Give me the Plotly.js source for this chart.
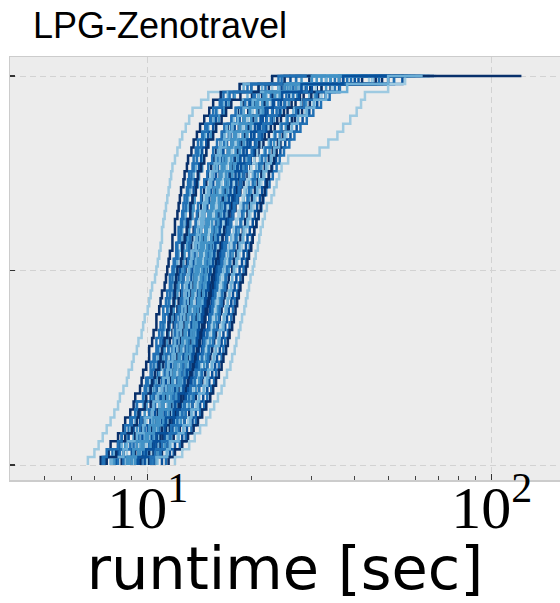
<!DOCTYPE html>
<html><head><meta charset="utf-8">
<script src="https://cdn.plot.ly/plotly-3.0.1.min.js"></script>
<style>html,body{margin:0;padding:0;background:#fff}#chart{width:560px;height:603px}</style>
</head><body><div id="chart"></div>
<script>
// Runtimes (seconds) of 50 runs per configuration
const run01 = [6.7,7.0,7.2,7.4,7.6,7.8,8.0,8.2,8.3,8.5,8.7,8.8,9.0,9.1,9.3,9.4,9.6,9.7,9.8,10.0,10.1,10.2,10.3,10.5,10.6,10.7,10.8,10.9,11.0,11.0,11.1,11.2,11.3,11.4,11.5,11.6,11.7,11.8,12.0,12.2,12.4,12.6,12.9,13.2,13.5,14.3,15.0,18.5,23.0,25.0];
const run02 = [7.3,7.7,7.8,8.2,8.5,8.6,8.9,9.1,9.2,9.5,9.6,9.7,9.9,10.1,10.1,10.3,10.4,10.6,10.6,10.8,10.9,11.0,11.2,11.3,11.4,11.5,11.6,11.8,11.8,12.0,12.0,12.2,12.3,12.4,12.5,12.7,12.8,13.0,13.1,13.4,13.6,13.9,14.2,14.6,15.1,15.5,16.3,18.5,23.0,26.0];
const run03 = [7.5,7.9,8.3,8.4,8.8,8.9,9.2,9.3,9.7,9.8,9.9,10.2,10.2,10.4,10.6,10.6,10.8,10.9,11.1,11.1,11.3,11.4,11.6,11.6,11.8,11.9,12.1,12.1,12.3,12.3,12.5,12.6,12.7,12.8,13.0,13.1,13.2,13.5,13.6,13.8,14.0,14.4,14.7,15.2,15.5,16.2,16.6,19.5,24.0,28.0];
const run04 = [7.9,8.0,8.4,8.7,8.9,9.2,9.4,9.7,9.8,10.1,10.2,10.3,10.5,10.7,10.8,10.9,11.1,11.2,11.2,11.5,11.6,11.7,11.8,12.0,12.1,12.2,12.3,12.5,12.6,12.6,12.8,12.9,13.1,13.1,13.3,13.4,13.6,13.8,13.9,14.2,14.4,14.7,15.0,15.6,15.9,16.6,17.1,19.0,25.0,29.0];
const run05 = [8.1,8.2,8.7,8.8,9.1,9.5,9.5,9.9,10.2,10.2,10.4,10.7,10.7,10.9,11.1,11.1,11.4,11.5,11.5,11.8,11.9,11.9,12.2,12.3,12.4,12.5,12.7,12.7,12.9,13.0,13.0,13.3,13.4,13.5,13.6,13.7,14.0,14.1,14.3,14.4,14.8,15.0,15.5,15.8,16.5,16.9,17.8,20.0,26.0,31.0];
const run06 = [8.0,8.5,8.6,9.1,9.3,9.6,9.8,9.9,10.3,10.4,10.6,10.8,10.9,11.1,11.2,11.4,11.5,11.6,11.8,11.9,12.0,12.2,12.3,12.5,12.6,12.7,12.8,13.0,13.1,13.2,13.3,13.5,13.6,13.7,13.8,14.0,14.1,14.4,14.5,14.8,15.0,15.3,15.8,16.1,16.7,17.2,17.9,21.0,28.0,33.0];
const run07 = [8.4,8.5,9.0,9.2,9.6,9.7,10.1,10.2,10.5,10.7,10.8,11.1,11.1,11.4,11.5,11.6,11.8,11.9,12.0,12.2,12.3,12.5,12.6,12.7,12.9,13.0,13.2,13.4,13.5,13.6,13.8,14.0,14.3,14.4,14.6,14.8,15.0,15.3,15.6,15.8,16.3,16.5,17.1,17.6,18.4,19.0,20.1,22.5,29.5,35.0];
const run08 = [8.6,8.7,9.0,9.4,9.8,9.9,10.1,10.5,10.6,10.8,11.1,11.1,11.4,11.5,11.6,11.9,11.9,12.1,12.2,12.4,12.6,12.6,12.8,13.0,13.1,13.3,13.3,13.6,13.7,13.9,14.0,14.2,14.5,14.6,14.8,15.1,15.2,15.6,15.8,16.1,16.5,16.8,17.4,17.8,18.6,19.2,20.4,23.0,31.0,38.0];
const run09 = [8.5,9.0,9.1,9.6,9.8,10.2,10.3,10.5,10.9,11.0,11.1,11.4,11.6,11.7,11.8,12.0,12.2,12.3,12.4,12.5,12.7,12.9,13.0,13.1,13.3,13.5,13.6,13.8,13.9,14.1,14.3,14.4,14.7,14.9,15.0,15.3,15.5,15.8,16.0,16.4,16.7,17.2,17.5,18.2,18.7,19.7,20.5,24.0,34.0,41.0];
const run10 = [8.8,9.0,9.3,9.7,10.0,10.2,10.5,10.8,10.9,11.2,11.3,11.6,11.7,11.8,12.0,12.2,12.3,12.5,12.6,12.7,12.9,13.0,13.2,13.4,13.5,13.6,13.8,14.0,14.1,14.3,14.5,14.6,14.9,15.1,15.3,15.5,15.8,16.0,16.3,16.6,17.0,17.4,17.9,18.5,19.0,19.9,21.0,24.5,33.0,44.0];
const run11 = [8.9,9.1,9.5,9.8,10.2,10.3,10.7,10.8,11.2,11.3,11.5,11.7,11.9,12.0,12.2,12.4,12.5,12.6,12.8,12.9,13.1,13.2,13.4,13.6,13.7,13.8,13.9,14.1,14.2,14.3,14.5,14.6,14.7,14.9,15.0,15.2,15.4,15.6,15.8,16.0,16.3,16.7,17.0,17.6,18.1,18.7,19.5,21.5,27.0,36.0];
const run12 = [9.0,9.2,9.7,9.9,10.3,10.6,10.7,11.1,11.3,11.5,11.7,11.9,12.0,12.2,12.4,12.5,12.7,12.8,13.0,13.1,13.3,13.4,13.6,13.7,13.9,14.1,14.2,14.4,14.5,14.7,14.9,15.1,15.3,15.5,15.7,16.0,16.2,16.5,16.8,17.1,17.5,17.9,18.4,19.0,19.6,20.5,21.5,25.0,36.0,47.0];
const run13 = [9.2,9.4,9.7,10.2,10.4,10.7,11.0,11.1,11.5,11.6,11.9,12.0,12.3,12.4,12.5,12.7,12.9,13.0,13.1,13.3,13.5,13.6,13.8,13.9,14.1,14.3,14.4,14.6,14.8,14.9,15.1,15.3,15.6,15.7,16.0,16.2,16.4,16.8,17.0,17.3,17.8,18.1,18.7,19.2,19.9,20.8,21.8,25.5,32.0,43.0];
const run14 = [9.1,9.6,9.9,10.3,10.5,10.9,11.0,11.4,11.6,11.9,12.0,12.2,12.4,12.6,12.7,12.9,13.0,13.2,13.4,13.5,13.6,13.8,14.0,14.1,14.3,14.5,14.6,14.8,15.0,15.1,15.3,15.5,15.8,16.0,16.2,16.4,16.7,17.0,17.2,17.6,18.0,18.4,18.9,19.6,20.2,21.0,22.2,26.0,38.0,49.0];
const run15 = [9.3,9.7,10.1,10.3,10.8,11.0,11.2,11.6,11.8,12.0,12.2,12.4,12.6,12.7,12.9,13.1,13.2,13.4,13.5,13.7,13.9,14.0,14.2,14.3,14.5,14.7,14.9,15.1,15.3,15.6,15.8,16.0,16.3,16.6,16.9,17.2,17.6,18.1,18.5,19.0,19.7,20.4,21.2,22.1,23.1,24.4,25.8,28.0,41.0,53.0];
const run16 = [9.6,9.8,10.1,10.6,10.8,11.2,11.3,11.7,11.9,12.2,12.3,12.6,12.7,12.9,13.1,13.2,13.4,13.6,13.7,13.9,14.0,14.2,14.4,14.5,14.7,14.9,15.0,15.2,15.4,15.6,15.8,16.0,16.2,16.4,16.7,16.9,17.2,17.4,17.8,18.1,18.5,18.9,19.5,20.1,20.8,21.6,22.8,26.5,35.0,46.0];
const run17 = [9.5,10.0,10.3,10.7,11.0,11.3,11.6,11.8,12.1,12.3,12.5,12.8,12.9,13.1,13.3,13.4,13.6,13.7,13.9,14.1,14.2,14.4,14.6,14.7,14.9,15.1,15.2,15.4,15.6,15.8,16.0,16.2,16.4,16.6,16.9,17.1,17.4,17.7,18.0,18.3,18.8,19.2,19.7,20.3,21.1,21.9,23.1,27.0,37.0,50.0];
const run18 = [9.8,10.0,10.5,10.8,11.2,11.4,11.8,11.9,12.3,12.5,12.7,12.9,13.1,13.3,13.4,13.6,13.8,13.9,14.1,14.3,14.4,14.6,14.8,14.9,15.1,15.3,15.4,15.6,15.8,16.0,16.2,16.4,16.6,16.9,17.1,17.3,17.6,17.9,18.2,18.6,19.0,19.4,20.0,20.6,21.3,22.2,23.4,27.5,33.0,45.0];
const run19 = [9.9,10.3,10.5,11.0,11.3,11.6,11.9,12.1,12.4,12.7,12.8,13.1,13.3,13.4,13.6,13.8,13.9,14.1,14.3,14.4,14.6,14.8,14.9,15.1,15.3,15.5,15.7,15.9,16.2,16.4,16.6,16.9,17.2,17.5,17.8,18.2,18.6,19.0,19.5,20.1,20.7,21.5,22.4,23.3,24.4,25.7,27.2,30.0,45.0,58.0];
const run20 = [10.1,10.3,10.8,11.0,11.5,11.7,12.0,12.4,12.6,12.8,13.0,13.3,13.4,13.6,13.8,14.0,14.1,14.3,14.5,14.6,14.8,15.0,15.1,15.3,15.5,15.7,15.9,16.0,16.2,16.4,16.6,16.8,17.1,17.3,17.6,17.8,18.1,18.4,18.7,19.1,19.5,20.0,20.5,21.2,21.9,22.8,24.0,28.2,40.0,52.0];
const run21 = [10.1,10.6,10.9,11.4,11.7,12.0,12.2,12.6,12.8,13.1,13.3,13.5,13.7,13.9,14.1,14.2,14.4,14.6,14.7,14.9,15.1,15.3,15.4,15.6,15.8,16.0,16.2,16.3,16.5,16.7,16.9,17.2,17.4,17.6,17.9,18.1,18.4,18.7,19.1,19.4,19.9,20.4,20.9,21.6,22.3,23.3,24.5,28.8,36.0,48.0];
const run22 = [9.5,10.1,10.4,10.9,11.3,11.6,12.0,12.3,12.5,12.9,13.1,13.3,13.6,13.8,14.0,14.2,14.3,14.6,14.7,14.9,15.1,15.3,15.5,15.7,16.0,16.2,16.5,16.7,16.9,17.2,17.4,17.7,18.0,18.3,18.6,19.0,19.5,19.9,20.4,21.0,21.7,22.5,23.4,24.4,25.5,26.9,28.4,31.0,48.0,60.0];
const run23 = [10.6,10.8,11.3,11.7,12.0,12.4,12.7,12.9,13.3,13.5,13.7,14.0,14.1,14.3,14.5,14.7,14.9,15.0,15.2,15.4,15.6,15.7,15.9,16.1,16.3,16.5,16.7,16.9,17.0,17.3,17.5,17.7,17.9,18.2,18.5,18.7,19.0,19.3,19.7,20.1,20.5,21.0,21.6,22.2,23.0,24.0,25.3,29.7,39.0,51.0];
const run24 = [9.9,10.4,10.8,11.3,11.7,12.1,12.4,12.7,13.1,13.3,13.6,13.8,14.1,14.3,14.5,14.7,14.9,15.1,15.3,15.5,15.7,15.8,16.0,16.2,16.6,16.8,17.1,17.3,17.5,17.8,18.1,18.4,18.7,19.0,19.3,19.7,20.2,20.7,21.2,21.8,22.5,23.3,24.3,25.3,26.5,27.9,29.5,32.0,52.0,64.0];
const run25 = [10.0,10.6,11.0,11.5,11.9,12.3,12.6,13.0,13.3,13.5,13.8,14.1,14.3,14.6,14.8,15.0,15.2,15.4,15.5,15.8,15.9,16.1,16.3,16.5,16.9,17.1,17.3,17.5,17.7,17.9,18.1,18.4,18.6,18.9,19.1,19.4,19.7,20.0,20.4,20.8,21.3,21.8,22.4,23.1,23.9,24.9,26.2,30.8,44.0,56.0];
const run26 = [10.3,10.7,11.2,11.7,12.1,12.5,12.9,13.2,13.5,13.8,14.1,14.3,14.6,14.8,15.0,15.2,15.5,15.6,15.8,16.0,16.2,16.4,16.6,16.8,17.2,17.4,17.7,17.9,18.2,18.4,18.7,19.0,19.4,19.7,20.0,20.5,20.9,21.4,22.0,22.6,23.3,24.2,25.2,26.2,27.5,28.9,30.6,33.0,45.0,66.0];
const run27 = [10.5,11.0,11.5,11.9,12.4,12.8,13.2,13.5,13.8,14.1,14.4,14.7,14.9,15.2,15.4,15.6,15.8,16.0,16.2,16.4,16.6,16.8,17.0,17.2,17.6,17.8,18.1,18.3,18.6,18.9,19.2,19.5,19.8,20.1,20.5,20.9,21.4,21.9,22.5,23.1,23.9,24.7,25.7,26.8,28.1,29.6,31.3,34.0,50.0,62.0];
const run28 = [10.7,11.3,11.7,12.2,12.7,13.1,13.5,13.8,14.1,14.5,14.7,15.0,15.3,15.5,15.7,16.0,16.2,16.4,16.6,16.8,17.0,17.2,17.4,17.6,18.0,18.2,18.5,18.8,19.0,19.3,19.6,19.9,20.3,20.6,21.0,21.4,21.9,22.4,23.0,23.6,24.4,25.3,26.3,27.4,28.7,30.2,32.0,34.3,45.0,69.0];
const run29 = [11.0,11.6,12.0,12.6,13.0,13.5,13.8,14.2,14.5,14.9,15.1,15.4,15.7,15.9,16.2,16.4,16.6,16.8,17.0,17.2,17.5,17.7,17.9,18.1,18.5,18.8,19.0,19.3,19.5,19.8,20.2,20.5,20.8,21.2,21.5,22.0,22.5,23.0,23.6,24.3,25.1,26.0,27.1,28.2,29.5,31.1,32.9,36.0,55.0,68.0];
const run30 = [11.3,11.9,12.4,12.9,13.4,13.8,14.2,14.6,14.9,15.3,15.6,15.8,16.1,16.4,16.6,16.8,17.1,17.3,17.5,17.7,17.9,18.2,18.4,18.6,19.0,19.3,19.5,19.8,20.1,20.4,20.7,21.0,21.4,21.7,22.1,22.6,23.1,23.7,24.2,24.9,25.8,26.7,27.8,29.0,30.3,31.9,33.8,36.2,52.0,60.0];
const run31 = [11.5,12.0,12.6,13.1,13.6,14.0,14.4,14.8,15.2,15.5,15.8,16.1,16.4,16.6,16.9,17.1,17.3,17.6,17.8,18.0,18.2,18.4,18.6,18.9,19.3,19.5,19.7,20.0,20.2,20.4,20.7,21.0,21.3,21.6,21.9,22.2,22.5,22.9,23.3,23.7,24.3,24.9,25.6,26.3,27.3,28.4,29.9,32.0,46.0,57.0];
const run32 = [12.0,12.6,13.2,13.7,14.2,14.8,15.2,15.6,16.0,16.4,16.7,17.0,17.4,17.6,17.9,18.1,18.4,18.6,18.8,19.1,19.3,19.5,19.7,19.9,20.2,20.4,20.6,20.9,21.1,21.3,21.6,21.9,22.2,22.9,23.3,23.7,24.1,24.5,25.6,31.6,33.5,35.6,37.0,38.8,40.5,41.7,42.8,50.0,56.0,65.0];
const run33 = [10.1,10.4,10.9,11.1,11.6,11.8,12.2,12.4,12.7,12.9,13.1,13.4,13.5,13.7,13.9,14.1,14.2,14.4,14.6,14.7,14.9,15.1,15.2,15.4,15.6,15.8,16.0,16.3,16.5,16.7,17.0,17.3,17.6,17.8,18.2,18.5,19.0,19.4,19.9,20.5,21.1,21.9,22.8,23.8,24.9,26.2,27.7,29.7,42.0,122.0];
const run34 = [9.0,9.4,9.7,10.0,10.4,10.6,10.9,11.1,11.4,11.6,11.8,12.0,12.1,12.3,12.5,12.6,12.8,12.9,13.1,13.2,13.4,13.5,13.7,13.8,14.0,14.2,14.3,14.5,14.7,14.8,15.0,15.2,15.4,15.6,15.9,16.1,16.3,16.6,16.9,17.2,17.6,18.0,18.5,19.1,19.8,20.6,21.7,24.0,31.0,42.0];
const run35 = [8.2,8.3,8.9,9.4,9.5,9.6,10.1,10.4,10.4,10.6,11.0,11.2,11.3,11.3,11.5,11.9,12.0,12.0,12.1,12.3,12.5,12.6,12.6,12.7,12.8,13.1,13.2,13.2,13.3,13.7,13.8,13.9,14.0,14.3,14.3,14.6,14.9,15.0,15.4,15.5,15.9,16.4,16.7,17.5,18.0,19.2,20.3,22.0,27.0,33.0];
const run36 = [8.8,9.5,9.6,10.0,10.7,10.8,11.0,11.5,11.7,11.8,12.3,12.4,12.5,12.9,13.0,13.0,13.4,13.6,13.6,13.7,14.0,14.1,14.2,14.3,14.4,14.7,14.8,14.9,15.3,15.4,15.4,15.8,16.1,16.1,16.5,16.8,16.9,17.4,17.5,18.0,18.3,18.9,19.3,20.0,20.8,21.5,23.5,26.0,34.0,47.0];
const run37 = [9.8,10.5,10.6,11.2,11.8,11.9,12.2,12.8,12.9,13.3,13.4,13.8,13.9,14.0,14.4,14.5,14.6,15.0,15.1,15.2,15.4,15.5,15.7,15.8,15.9,16.3,16.4,16.5,16.9,17.0,17.1,17.6,17.8,17.9,18.4,18.6,19.1,19.3,19.9,20.3,20.6,21.5,22.1,23.0,24.2,25.0,27.5,30.0,40.0,54.0];
const run38 = [7.8,8.5,8.7,9.3,9.7,9.8,10.3,10.4,10.7,11.0,11.1,11.4,11.5,11.8,11.9,12.0,12.2,12.4,12.5,12.6,12.8,12.9,13.0,13.1,13.2,13.4,13.5,13.8,13.9,14.0,14.3,14.4,14.6,14.8,15.1,15.3,15.4,15.9,16.2,16.3,16.9,17.3,17.6,18.3,19.0,20.2,21.0,24.0,30.0,39.0];
const run39 = [10.4,10.9,11.5,11.6,12.3,12.8,12.9,13.5,13.6,14.1,14.3,14.4,14.9,15.0,15.1,15.5,15.6,15.9,16.1,16.2,16.4,16.5,16.8,16.9,17.0,17.3,17.4,17.8,18.0,18.1,18.6,18.8,19.0,19.5,19.7,20.2,20.5,21.1,21.5,22.0,22.8,23.5,24.5,25.5,27.0,28.5,31.0,35.0,47.0,58.0];
const run40 = [9.2,9.4,10.2,10.4,10.5,11.1,11.5,11.6,12.1,12.2,12.5,12.8,12.9,13.0,13.3,13.5,13.6,13.8,14.0,14.0,14.2,14.5,14.6,14.7,14.8,15.1,15.2,15.3,15.7,15.8,16.0,16.3,16.4,16.8,17.0,17.1,17.6,17.8,18.3,18.5,19.1,19.5,19.9,20.7,21.6,22.3,24.2,27.0,36.0,44.0];
const run41 = [7.6,8.1,8.2,8.6,9.0,9.3,9.4,9.8,9.9,10.2,10.3,10.5,10.8,10.9,11.0,11.2,11.4,11.5,11.6,11.7,11.9,12.0,12.0,12.1,12.2,12.5,12.6,12.6,12.8,13.0,13.1,13.3,13.3,13.5,13.8,13.9,14.0,14.3,14.6,14.8,15.0,15.5,15.8,16.4,16.9,17.5,18.6,21.0,25.0,30.0];
const run42 = [10.2,10.5,11.0,11.6,11.7,12.2,12.6,12.8,13.2,13.3,13.7,13.8,14.1,14.4,14.5,14.6,14.9,15.1,15.2,15.4,15.5,15.7,15.9,16.0,16.1,16.4,16.5,16.7,17.0,17.1,17.4,17.7,17.8,18.2,18.4,18.6,19.0,19.4,19.8,20.1,20.7,21.2,21.8,22.8,23.7,25.1,26.5,29.0,38.0,50.0];
const run43 = [8.7,9.1,9.3,9.9,10.1,10.4,10.8,11.0,11.1,11.5,11.8,11.9,12.0,12.4,12.5,12.6,12.9,13.0,13.1,13.3,13.4,13.5,13.7,13.7,13.8,14.0,14.2,14.3,14.4,14.7,14.8,15.0,15.3,15.4,15.6,15.9,16.2,16.4,16.6,17.1,17.5,17.8,18.5,19.0,19.8,20.9,22.0,25.0,30.0,41.0];
const run44 = [9.4,9.9,10.4,10.6,11.2,11.3,11.9,12.0,12.3,12.7,12.8,13.0,13.3,13.5,13.6,13.9,14.0,14.1,14.4,14.5,14.7,14.8,15.0,15.1,15.2,15.5,15.6,15.7,16.0,16.2,16.3,16.7,16.8,17.2,17.4,17.5,18.0,18.3,18.6,19.0,19.5,20.0,20.5,21.3,22.0,23.1,24.6,28.0,37.0,51.0];
const run45 = [10.6,11.4,11.6,12.3,12.7,13.3,13.4,14.0,14.1,14.6,14.9,15.0,15.4,15.6,15.8,16.1,16.2,16.6,16.7,16.9,17.1,17.3,17.5,17.6,17.8,18.1,18.3,18.5,18.9,19.0,19.5,19.7,20.0,20.4,20.8,21.1,21.7,22.1,22.8,23.3,24.1,25.0,26.2,27.3,29.0,30.5,33.0,38.0,50.0,63.0];
const run46 = [7.4,7.6,8.2,8.4,8.6,9.0,9.2,9.3,9.7,9.9,10.0,10.3,10.4,10.5,10.7,10.9,11.0,11.1,11.2,11.4,11.5,11.6,11.7,11.8,11.9,12.0,12.2,12.2,12.4,12.5,12.6,12.7,12.9,13.0,13.1,13.3,13.4,13.6,13.9,14.0,14.3,14.5,14.9,15.3,15.8,16.4,17.3,20.0,24.5,29.0];

const runs = [run01,run02,run03,run04,run05,run06,run07,run08,run09,run10,run11,run12,run13,run14,run15,run16,run17,run18,run19,run20,run21,run22,run23,run24,run25,run26,run27,run28,run29,run30,run31,run32,run33,run34,run35,run36,run37,run38,run39,run40,run41,run42,run43,run44,run45,run46];

const xTickVals = [10, 100];
const xTickText = ['10<sup>1</sup>', '10<sup>2</sup>'];
const xMinorVals = [4,5,6,7,8,9,20,30,40,50,60,70,80,90];
const yTickVals = [0, 0.5, 1];

const palette = ['#9ecae1','#6baed6','#4292c6','#2171b5','#08519c','#08306b'];
const colorIdx = [0,5,3,1,4,2,5,0,3,4,1,5,2,0,4,3,5,1,2,0,4,5,3,1,0,2,5,0,4,3,5,0,5,2,3,2,4,1,3,2,5,3,2,4,1,3];

const traces = runs.map((r, k) => {
  const xs = r.slice().sort((a, b) => a - b);
  const n = xs.length;
  const ys = xs.map((_, i) => i / (n - 1));
  return {
    x: xs, y: ys, type: 'scatter', mode: 'lines',
    line: {shape: 'vh', width: 2.5, color: palette[colorIdx[k]]},
    hoverinfo: 'skip', showlegend: false
  };
});

const layout = {
  width: 560, height: 603,
  margin: {l: 10, r: 0, t: 57, b: 123, pad: 0},
  paper_bgcolor: '#ffffff', plot_bgcolor: '#ececec',
  showlegend: false,
  title: {
    text: 'LPG-Zenotravel', xref: 'container', yref: 'container',
    x: 33/560, xanchor: 'left', y: 1 - 25/603, yanchor: 'middle',
    font: {family: 'Liberation Sans, Arial, sans-serif', size: 36, color: '#000'}
  },
  xaxis: {
    type: 'log', range: [0.5997, 2.1985],
    tickmode: 'array', tickvals: xTickVals, ticktext: xTickText,
    tickfont: {family: 'Liberation Serif, DejaVu Serif, serif', size: 60, color: '#000'},
    ticklabelstandoff: -26,
    ticks: 'inside', ticklen: 6, tickwidth: 1, tickcolor: '#333',
    minor: {tickmode: 'array', tickvals: xMinorVals, ticks: 'inside', ticklen: 4, tickwidth: 1, tickcolor: '#444', showgrid: false},
    showgrid: true, gridcolor: '#d2d2d2', gridwidth: 1, griddash: '6px,4px',
    showline: true, linecolor: '#cccccc', linewidth: 1.5, mirror: true, zeroline: false,
    title: {text: 'runtime [sec]', font: {family: 'DejaVu Sans, sans-serif', size: 59, color: '#000'}, standoff: 8}
  },
  yaxis: {
    range: [-0.0385, 1.049], tickmode: 'array', tickvals: yTickVals,
    showticklabels: false, ticks: 'inside', ticklen: 5, tickwidth: 1.5, tickcolor: '#333',
    showgrid: true, gridcolor: '#d2d2d2', gridwidth: 1, griddash: '6px,4px',
    showline: true, linecolor: '#cccccc', linewidth: 1.5, mirror: false, zeroline: false
  }
};

Plotly.newPlot('chart', traces, layout, {staticPlot: true, displayModeBar: false});
</script>
</body></html>
